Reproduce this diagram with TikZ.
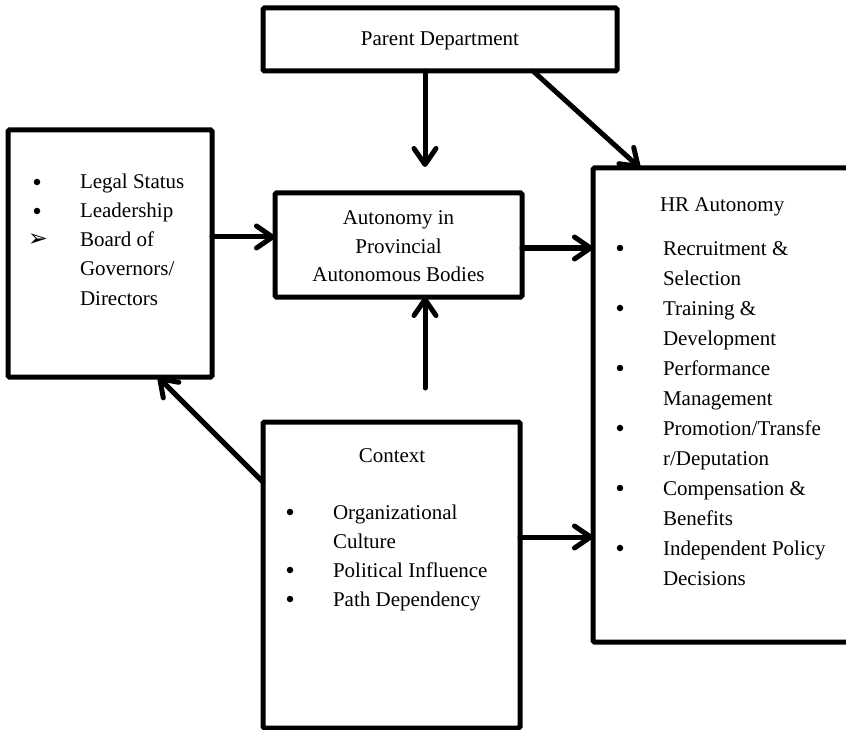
\documentclass[tikz,border=0pt]{standalone}
\usepackage{fontspec}
\setmainfont{Liberation Serif}
\newfontfamily\dejavu{DejaVu Sans}
\usetikzlibrary{arrows.meta}
\begin{document}
\begin{tikzpicture}[x=1pt,y=-1pt,
  box/.style={draw=black,line width=5pt,outer sep=0pt,inner sep=0pt,rounded corners=1.5pt,fill=white},
  txt/.style={inner sep=0pt,outer sep=0pt,font=\fontsize{21}{28}\selectfont},
  lt/.style={txt,anchor=base west},
  ct/.style={txt,anchor=base},
  bul/.style={circle,fill=black,inner sep=0pt,minimum size=6.5pt},
  arr/.style={line width=5pt,line cap=round,line join=round,-{Straight Barb[length=16pt,width=22pt,line cap=round,line join=round]}}
]
\useasboundingbox (0,0) rectangle (846,730);
\fill[white] (0,0) rectangle (846,730);
\clip (0,0) rectangle (846,730);

% boxes
\node[box,minimum width=354pt,minimum height=63pt] (parent) at (440,39.5) {};
\node[box,minimum width=204pt,minimum height=247pt] (left) at (110,253.5) {};
\node[box,minimum width=247pt,minimum height=104pt] (auto) at (398.5,245) {};
\node[box,minimum width=260pt,minimum height=474pt] (hr) at (723,405) {};
\node[box,minimum width=257pt,minimum height=306pt] (ctx) at (391.5,575) {};

% parent text
\node[ct] (ptext) at (440,46) {Parent Department};

% left box text
\node[bul] (lb1) at (37,182) {};
\node[lt] (lt1) at (80,189) {Legal Status};
\node[bul] (lb2) at (37,211) {};
\node[lt] (lt2) at (80,218) {Leadership};
\node[txt] (lb3) at (38,240) {\dejavu\fontsize{24}{24}\selectfont ➢};
\node[lt] (lt3) at (80,247) {Board of};
\node[lt] (lt4) at (80,276) {Governors/};
\node[lt] (lt5) at (80,305) {Directors};

% autonomy text
\node[ct] (at1) at (398.5,225) {Autonomy in};
\node[ct] (at2) at (398.5,253) {Provincial};
\node[ct] (at3) at (398.5,281) {Autonomous Bodies};

% HR text
\node[lt] (ht0) at (660,212) {HR Autonomy};
\node[bul] (hb1) at (620,248) {};
\node[lt] (ht1) at (663,255) {Recruitment \&};
\node[lt] (ht2) at (663,285) {Selection};
\node[bul] (hb3) at (620,308) {};
\node[lt] (ht3) at (663,315) {Training \&};
\node[lt] (ht4) at (663,345) {Development};
\node[bul] (hb5) at (620,368) {};
\node[lt] (ht5) at (663,375) {Performance};
\node[lt] (ht6) at (663,405) {Management};
\node[bul] (hb7) at (620,428) {};
\node[lt] (ht7) at (663,435) {Promotion/Transfe};
\node[lt] (ht8) at (663,465) {r/Deputation};
\node[bul] (hb9) at (620,488) {};
\node[lt] (ht9) at (663,495) {Compensation \&};
\node[lt] (ht10) at (663,525) {Benefits};
\node[bul] (hb11) at (620,548) {};
\node[lt] (ht11) at (663,555) {Independent Policy};
\node[lt] (ht12) at (663,585) {Decisions};

% context text
\node[ct] (ct0) at (392,462) {Context};
\node[bul] (cb1) at (290,512) {};
\node[lt] (ct1) at (333,519) {Organizational};
\node[lt] (ct2) at (333,548) {Culture};
\node[bul] (cb3) at (290,570) {};
\node[lt] (ct3) at (333,577) {Political Influence};
\node[bul] (cb4) at (290,599) {};
\node[lt] (ct4) at (333,606) {Path Dependency};

% free ends
\coordinate (downtip) at (425,167);
\coordinate (uptail) at (425,388);

% connectors
\draw[arr] (parent.south -| downtip) -- (downtip);
\draw[arr] (parent.south -| 533,0) -- (hr.north -| 640,0);
\draw[arr] (left.east |- 0,237) -- (auto.west |- 0,237);
\draw[arr] (auto.east |- 0,248) -- (hr.west |- 0,248);
\draw[arr] (uptail) -- (auto.south -| uptail);
\draw[arr] (ctx.west |- 0,482) -- (left.south -| 158,0);
\draw[arr] (ctx.east |- 0,537) -- (hr.west |- 0,537);
\end{tikzpicture}
\end{document}
